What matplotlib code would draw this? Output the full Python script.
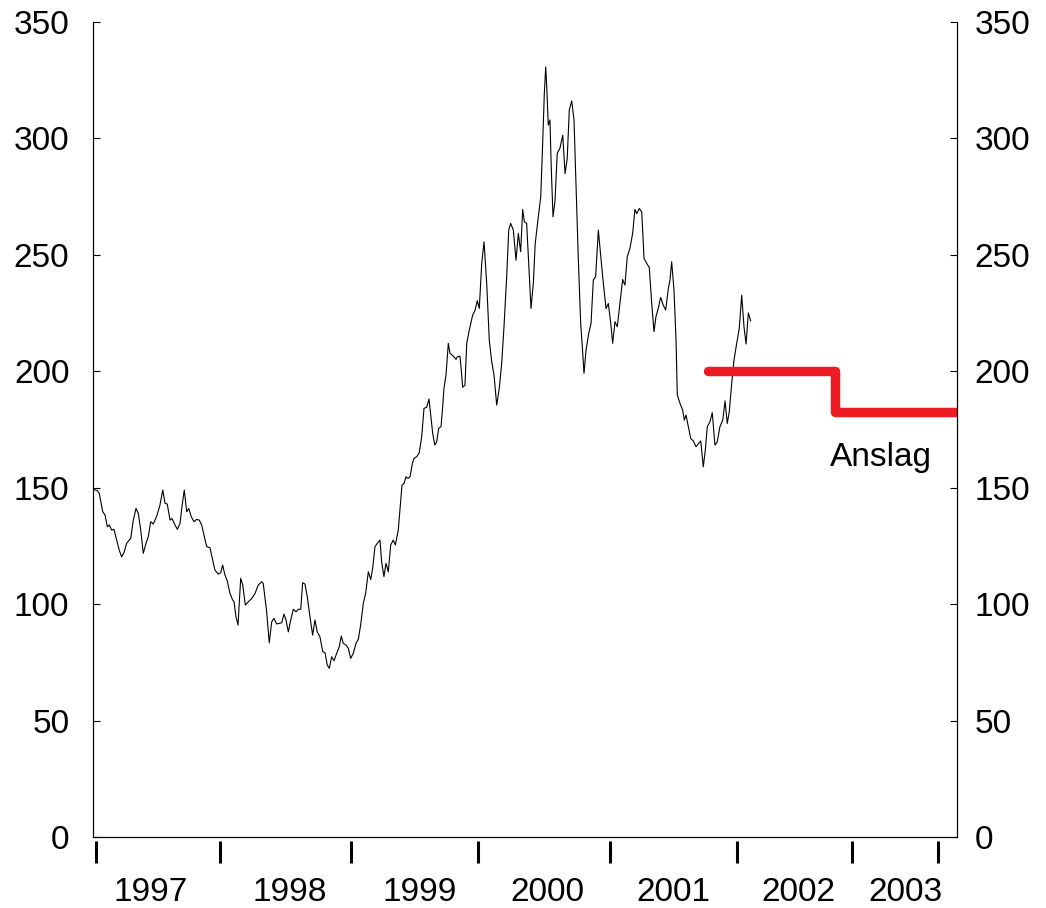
import numpy as np
import matplotlib
matplotlib.use("Agg")
from matplotlib import pyplot as plt

plt.rcParams['font.family'] = ['Liberation Sans', 'DejaVu Sans']

# years since start of 1997 (decimal) and index level
tid = [0.000, 0.002, 0.034, 0.049, 0.076, 0.094, 0.112, 0.127, 0.146, 0.164,
       0.185, 0.205, 0.224, 0.242, 0.263, 0.295, 0.315, 0.336, 0.354, 0.373,
       0.393, 0.414, 0.432, 0.451, 0.471, 0.498, 0.523, 0.545, 0.563, 0.580,
       0.602, 0.617, 0.641, 0.659, 0.680, 0.695, 0.713, 0.732, 0.748, 0.768,
       0.789, 0.810, 0.830, 0.849, 0.867, 0.888, 0.914, 0.935, 0.953, 0.979,
       0.998, 1.013, 1.031, 1.049, 1.070, 1.091, 1.102, 1.117, 1.133, 1.154,
       1.170, 1.190, 1.213, 1.240, 1.266, 1.291, 1.318, 1.330, 1.357, 1.377,
       1.396, 1.414, 1.435, 1.461, 1.474, 1.492, 1.508, 1.526, 1.545, 1.565,
       1.586, 1.604, 1.623, 1.638, 1.656, 1.674, 1.695, 1.716, 1.734, 1.752,
       1.773, 1.795, 1.813, 1.830, 1.846, 1.865, 1.883, 1.904, 1.924, 1.940,
       1.955, 1.977, 1.995, 2.013, 2.034, 2.055, 2.073, 2.091, 2.112, 2.130,
       2.151, 2.170, 2.185, 2.203, 2.221, 2.242, 2.255, 2.273, 2.289, 2.307,
       2.326, 2.346, 2.362, 2.385, 2.398, 2.414, 2.430, 2.445, 2.461, 2.477,
       2.495, 2.508, 2.529, 2.549, 2.568, 2.586, 2.607, 2.625, 2.641, 2.654,
       2.670, 2.685, 2.701, 2.719, 2.732, 2.742, 2.758, 2.776, 2.789, 2.805,
       2.820, 2.836, 2.846, 2.867, 2.875, 2.888, 2.906, 2.920, 2.940, 2.966,
       2.984, 3.002, 3.018, 3.037, 3.055, 3.076, 3.096, 3.115, 3.133, 3.154,
       3.174, 3.193, 3.211, 3.232, 3.248, 3.263, 3.284, 3.305, 3.323, 3.341,
       3.357, 3.370, 3.388, 3.404, 3.422, 3.440, 3.455, 3.479, 3.498, 3.513,
       3.526, 3.537, 3.545, 3.557, 3.570, 3.580, 3.594, 3.609, 3.627, 3.648,
       3.670, 3.688, 3.705, 3.721, 3.740, 3.758, 3.773, 3.791, 3.810, 3.823,
       3.836, 3.852, 3.873, 3.891, 3.909, 3.927, 3.948, 3.982, 4.008, 4.026,
       4.045, 4.060, 4.078, 4.096, 4.117, 4.138, 4.156, 4.174, 4.195, 4.216,
       4.234, 4.248, 4.268, 4.287, 4.305, 4.326, 4.346, 4.365, 4.383, 4.398,
       4.416, 4.435, 4.455, 4.474, 4.495, 4.508, 4.521, 4.539, 4.555, 4.565,
       4.586, 4.607, 4.620, 4.633, 4.651, 4.670, 4.690, 4.711, 4.732, 4.748,
       4.768, 4.784, 4.799, 4.820, 4.838, 4.859, 4.877, 4.898, 4.920, 4.938,
       4.955, 4.971, 4.990, 5.008, 5.029, 5.049, 5.068, 5.086, 5.102, 5.120,
       5.138]

verdi = [159.7, 149.3, 148.7, 147.6, 139.7, 138.3, 133.2, 134.0, 131.8, 132.1,
         127.5, 123.2, 120.3, 122.1, 126.1, 128.3, 136.1, 141.1, 139.0, 131.8,
         121.8, 126.1, 128.9, 135.4, 134.4, 137.8, 142.5, 149.0, 143.3, 143.0,
         136.1, 136.8, 134.0, 132.1, 134.7, 141.8, 149.0, 139.7, 141.1, 137.5,
         135.4, 136.4, 136.1, 134.0, 129.7, 124.7, 124.2, 118.9, 114.6, 112.9,
         113.5, 116.8, 112.5, 110.0, 104.6, 101.8, 101.0, 94.6, 91.0, 111.1,
         108.2, 99.6, 101.0, 102.4, 104.6, 108.2, 109.6, 108.9, 96.7, 83.4,
         92.4, 93.9, 91.5, 91.8, 92.0, 95.7, 93.2, 88.1, 93.2, 97.8,
         96.7, 97.8, 97.8, 109.2, 108.6, 103.2, 94.6, 86.7, 93.2, 88.1,
         86.0, 79.6, 79.1, 73.9, 72.4, 77.4, 75.7, 78.9, 81.7, 86.3,
         83.2, 82.4, 81.0, 76.7, 78.9, 83.2, 84.9, 91.0, 100.3, 104.6,
         113.9, 110.6, 115.4, 124.7, 126.1, 127.5, 118.2, 111.8, 117.5, 113.9,
         125.4, 127.5, 125.4, 131.8, 140.4, 151.1, 151.8, 154.7, 154.0, 154.7,
         160.4, 162.6, 163.3, 165.0, 171.9, 184.1, 184.5, 188.1, 179.8, 173.3,
         168.3, 169.7, 175.5, 176.2, 184.8, 192.7, 198.4, 212.0, 207.7, 207.0,
         206.2, 205.1, 206.2, 206.5, 201.9, 193.1, 194.1, 212.0, 217.7, 224.1,
         226.0, 230.3, 227.0, 246.3, 255.6, 237.7, 213.4, 204.1, 198.4, 185.5,
         192.7, 203.4, 219.1, 240.6, 260.6, 263.5, 260.6, 247.7, 259.2, 251.3,
         269.5, 264.2, 263.5, 246.3, 227.0, 237.7, 254.9, 266.3, 274.9, 297.8,
         319.3, 330.7, 322.1, 305.7, 307.9, 287.8, 266.3, 272.8, 293.6, 295.8,
         301.4, 284.9, 291.3, 312.2, 316.1, 307.9, 280.7, 249.2, 220.6, 210.5,
         199.1, 209.1, 216.3, 220.6, 239.2, 240.6, 260.6, 240.6, 226.9, 229.1,
         220.6, 212.0, 221.3, 219.1, 229.1, 239.4, 237.0, 249.2, 252.8, 259.2,
         269.5, 267.7, 269.9, 268.5, 248.5, 246.3, 244.6, 229.1, 217.0, 223.4,
         227.0, 231.7, 228.4, 226.3, 235.6, 239.2, 247.0, 234.9, 213.4, 189.8,
         186.2, 183.3, 179.0, 181.2, 176.2, 171.1, 170.1, 167.6, 169.0, 170.1,
         159.0, 166.2, 176.2, 178.3, 182.2, 168.3, 169.7, 176.2, 179.0, 187.3,
         177.6, 182.6, 194.8, 204.8, 212.0, 218.4, 232.7, 219.1, 211.7, 225.1,
         221.7]

# forecast ("Anslag")
anslag_tid = [4.805, 5.797, 6.75]
anslag_verdi = [200.0, 182.5, 182.5]

aar_labels = ["1997", "1998", "1999", "2000", "2001", "2002", "2003"]
aar_label_pos = [0.453, 1.539, 2.551, 3.55, 4.531, 5.508, 6.344]
aar_skille = [0.023, 0.992, 2.016, 3.008, 4.039, 5.031, 5.930, 6.602]

fig = plt.figure(figsize=(10.46, 9.08), dpi=100)
ax = fig.add_axes([0.0889, 0.0782, 0.8260, 0.8976])

ax.plot(tid, verdi, color="black", lw=0.8)
ax.plot(anslag_tid, anslag_verdi, color="#ed1c24", lw=6.8,
        drawstyle="steps-post", solid_capstyle="round", solid_joinstyle="round")
ax.text(5.758, 163, "Anslag", fontsize=24, ha="left", va="center")

ax.set_xlim(0, 6.75)
ax.set_ylim(0, 350)
ax.set_yticks(range(0, 351, 50))

ax.set_xticks(aar_label_pos, aar_labels)
ax.tick_params(axis="x", length=0, pad=29, labelsize=24)
ax.tick_params(axis="y", direction="in", length=5, width=0.8, labelsize=24,
               pad=17, left=True, right=False)

# right-hand axis with the same scale
ax2 = ax.twinx()
ax2.set_ylim(0, 350)
ax2.set_yticks(range(0, 351, 50))
ax2.tick_params(axis="y", direction="in", length=5, width=0.8, labelsize=24,
                pad=12.5)

# year separators below the axis
ax.vlines(aar_skille, -0.005, -0.032, transform=ax.get_xaxis_transform(),
          colors="black", lw=2.2, clip_on=False)

for a in (ax, ax2):
    for side in ["left", "right", "bottom"]:
        a.spines[side].set_linewidth(0.8)
    a.spines["top"].set_visible(False)

plt.savefig("out.png", dpi=100)
